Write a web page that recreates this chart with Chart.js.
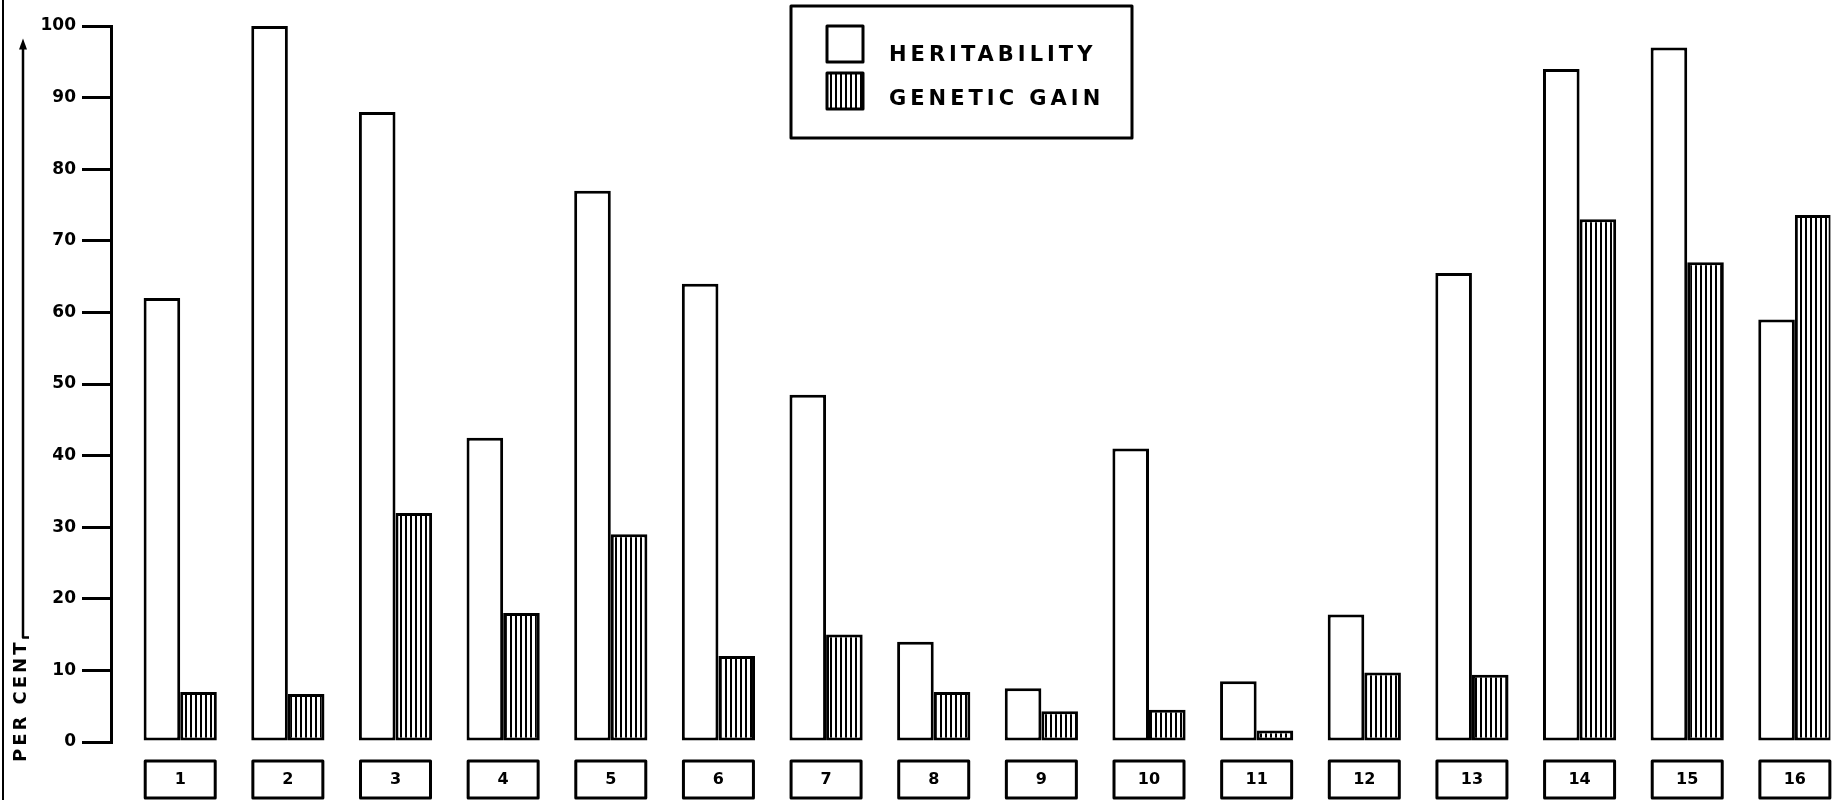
<!DOCTYPE html>
<html>
<head>
<meta charset="utf-8">
<script src="https://cdn.jsdelivr.net/npm/chart.js@4"></script>
<style>
  html, body { margin: 0; padding: 0; background: #fff; overflow: hidden; }
  #wrap { width: 1834px; height: 800px; }
</style>
</head>
<body>
<div id="wrap"><canvas id="gain-chart"></canvas></div>
<script>
// values (per cent)
const groups = [1, 2, 3, 4, 5, 6, 7, 8, 9, 10, 11, 12, 13, 14, 15, 16];
const heritability = [62, 100, 88, 42.5, 77, 64, 48.5, 14, 7.5, 41, 8.5, 17.8, 65.5, 94, 97, 59];
const geneticGain = [7, 6.7, 32, 18, 29, 12, 15, 7, 4.3, 4.5, 1.6, 9.7, 9.4, 73, 67, 73.6];
const yTicks = [0, 10, 20, 30, 40, 50, 60, 70, 80, 90, 100];
const seriesNames = ['HERITABILITY', 'GENETIC GAIN'];
const axisTitle = 'PER CENT';

const INK = '#000';
const LETTER_FONT = '"DejaVu Sans", sans-serif';

// vertical hatching for the genetic gain bars
function makeHatch() {
  const tile = document.createElement('canvas');
  tile.width = 5;
  tile.height = 10;
  const t = tile.getContext('2d');
  t.fillStyle = '#fff';
  t.fillRect(0, 0, 5, 10);
  t.fillStyle = INK;
  t.fillRect(0, 0, 2, 10);
  return t.createPattern(tile, 'repeat');
}

const canvas = document.getElementById('gain-chart');
const ctx = canvas.getContext('2d');
const hatch = makeHatch();

// boxes under the groups, the arrow with its caption and the boxed legend
const decorations = {
  id: 'decorations',
  afterDraw(chart) {
    const c = chart.ctx;
    const x = chart.scales.x;
    const area = chart.chartArea;
    c.save();
    c.strokeStyle = INK;
    c.lineJoin = 'round';

    // group number boxes
    c.lineWidth = 3;
    groups.forEach((g) => {
      const cx = x.getPixelForValue(g);
      c.strokeRect(cx - 35, area.bottom + 19, 70, 37);
    });

    // left margin rule
    c.lineWidth = 2;
    c.beginPath();
    c.moveTo(3, 0);
    c.lineTo(3, chart.height);
    c.stroke();

    // "PER CENT" with the upward arrow
    c.font = 'bold 18px ' + LETTER_FONT;
    c.letterSpacing = '3px';
    c.fillStyle = INK;
    c.translate(21, area.bottom + 20);
    c.rotate(-Math.PI / 2);
    c.textAlign = 'left';
    c.textBaseline = 'middle';
    c.fillText(axisTitle, 0, 0);
    const w = c.measureText(axisTitle).width;
    c.setTransform(1, 0, 0, 1, 0, 0);
    const arrowBottom = area.bottom + 20 - w - 2;
    const arrowTop = chart.scales.y.getPixelForValue(97);
    c.lineWidth = 2.5;
    c.beginPath();
    c.moveTo(29, arrowBottom);
    c.lineTo(23, arrowBottom);
    c.lineTo(23, arrowTop);
    c.stroke();
    c.beginPath();
    c.moveTo(23, arrowTop - 9);
    c.lineTo(19, arrowTop + 2);
    c.lineTo(27, arrowTop + 2);
    c.closePath();
    c.fill();

    // legend
    const lx = 791, ly = 6, lw = 341, lh = 132;
    c.lineWidth = 3;
    c.strokeRect(lx, ly, lw, lh);
    c.font = 'bold 21px ' + LETTER_FONT;
    c.letterSpacing = '4px';
    c.textAlign = 'left';
    c.textBaseline = 'middle';
    chart.data.datasets.forEach((ds, i) => {
      const sy = ly + 20 + i * 47;
      c.fillStyle = ds.backgroundColor;
      c.fillRect(lx + 36, sy, 36, 36);
      c.lineWidth = 3;
      c.strokeRect(lx + 36, sy, 36, 36);
      c.fillStyle = INK;
      c.fillText(ds.label, lx + 98, sy + 30 - i * 3);
    });
    c.restore();
  },
};

new Chart(ctx, {
  type: 'bar',
  data: {
    datasets: [
      {
        label: seriesNames[0],
        data: groups.map((g, i) => ({ x: g, y: heritability[i] })),
        backgroundColor: '#fff',
        borderColor: INK,
        borderWidth: 3,
        borderSkipped: false,
      },
      {
        label: seriesNames[1],
        data: groups.map((g, i) => ({ x: g, y: geneticGain[i] })),
        backgroundColor: hatch,
        borderColor: INK,
        borderWidth: 3,
        borderSkipped: false,
      },
    ],
  },
  options: {
    responsive: true,
    maintainAspectRatio: false,
    animation: false,
    layout: { padding: { top: 26, left: 0, right: 0, bottom: 0 } },
    datasets: { bar: { categoryPercentage: 0.68, barPercentage: 1.0 } },
    plugins: { legend: { display: false }, tooltip: { enabled: false } },
    scales: {
      x: {
        type: 'linear',
        offset: false,
        min: 0.357,
        max: 16.33,
        afterBuildTicks: (scale) => { scale.ticks = groups.map((g) => ({ value: g })); },
        afterFit: (scale) => { scale.height = 58; },
        grid: { display: false, drawTicks: false },
        border: { display: false },
        ticks: {
          color: INK,
          font: { family: LETTER_FONT, weight: 'bold', size: 16 },
          padding: 28,
          maxRotation: 0,
          autoSkip: false,
        },
      },
      y: {
        min: 0,
        max: 100,
        afterBuildTicks: (scale) => { scale.ticks = yTicks.map((v) => ({ value: v })); },
        afterFit: (scale) => { scale.width = 111; },
        grid: { drawOnChartArea: false, tickLength: 29, color: INK, lineWidth: 3 },
        border: { display: true, color: INK, width: 3 },
        ticks: {
          color: INK,
          font: { family: LETTER_FONT, weight: 'bold', size: 17 },
          padding: 6,
        },
      },
    },
  },
  plugins: [decorations],
});
</script>
</body>
</html>
